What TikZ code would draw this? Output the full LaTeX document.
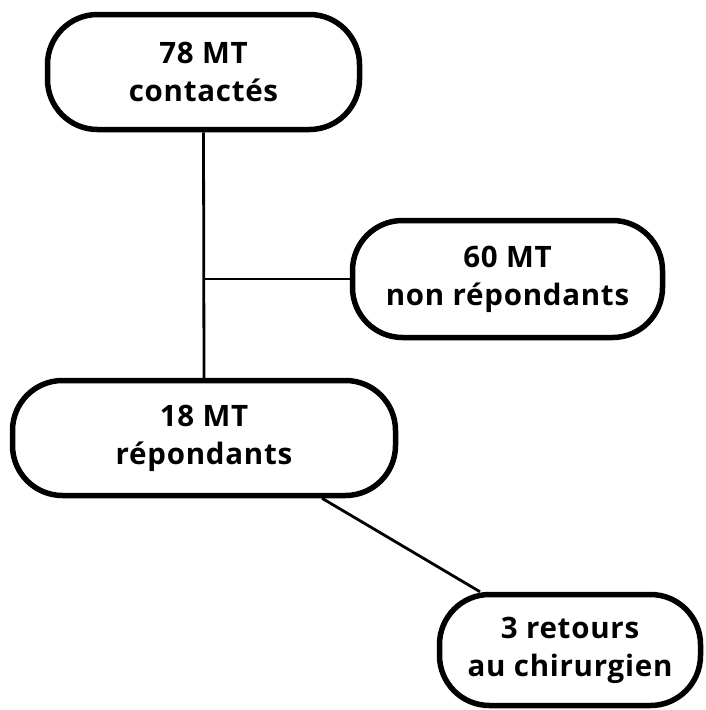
\documentclass[tikz,border=0pt]{standalone}
\usepackage{fontspec}
\setmainfont{Open Sans}[LetterSpace=2.5]
\usepackage{tikz}
\usetikzlibrary{positioning}

\begin{document}
\begin{tikzpicture}[x=1pt,y=-1pt,line width=2.8pt,
  main node/.style={draw,line width=5.5pt,rounded corners=50pt,align=center,
    inner sep=0pt,font=\fontsize{29.5}{38}\selectfont\bfseries}]
  \useasboundingbox (0,0) rectangle (705,710);

  \node[main node,minimum width=312pt,minimum height=115pt] (1) at (203.5,72) {78 MT\\contactés};
  \node[main node,minimum width=310pt,minimum height=117pt] (2) at (507.5,279) {60 MT\\non répondants};
  \node[main node,minimum width=383pt,minimum height=115pt] (3) at (204,438) {18 MT\\répondants};
  \node[main node,minimum width=261pt,minimum height=111pt] (4) at (570,650) {3 retours\\au chirurgien};

  \path
    (1.south) edge (3.north)
    (2.west -| 1.south) edge (2.west)
    ([xshift=118pt]3.south) edge ([xshift=-90pt]4.north);
\end{tikzpicture}
\end{document}
